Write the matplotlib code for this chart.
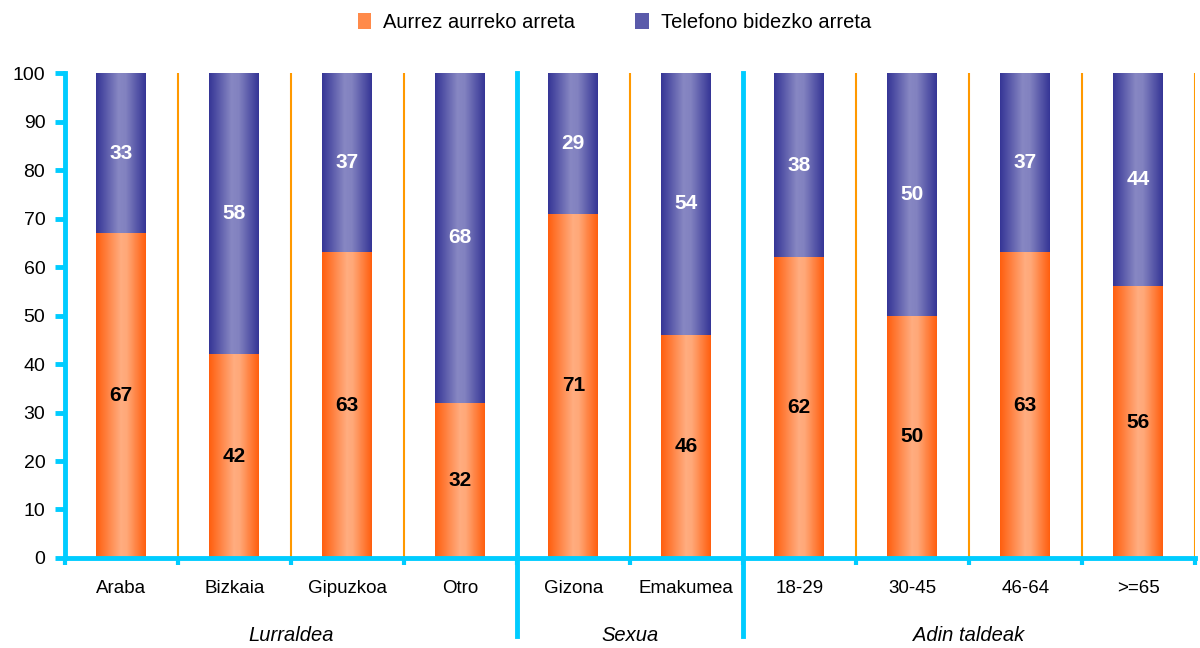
import numpy as np
import matplotlib
matplotlib.use("Agg")
import matplotlib.pyplot as plt
from matplotlib.colors import LinearSegmentedColormap
from matplotlib.patches import Patch

plt.rcParams["font.family"] = ["Liberation Sans", "DejaVu Sans"]

# ── data ────────────────────────────────────────────────────
categories = ["Araba", "Bizkaia", "Gipuzkoa", "Otro", "Gizona", "Emakumea",
              "18-29", "30-45", "46-64", ">=65"]
aurrez    = [67, 42, 63, 32, 71, 46, 62, 50, 63, 56]
telefono  = [33, 58, 37, 68, 29, 54, 38, 50, 37, 44]
groups    = ["Lurraldea", "Sexua", "Adin taldeak"]
group_sizes = [4, 2, 4]
series_names = ["Aurrez aurreko arreta", "Telefono bidezko arreta"]

CYAN   = "#00CCFF"
DIVIDE = "#FF9900"
cmap_or = LinearSegmentedColormap.from_list(
    "or", [(0, "#FF5F0F"), (0.5, "#FFAD80"), (0.62, "#FFA878"), (1, "#FF5F0F")])
cmap_bl = LinearSegmentedColormap.from_list(
    "bl", [(0, "#363696"), (0.45, "#8787C3"), (0.6, "#8282C0"), (1, "#363696")])

fig = plt.figure(figsize=(12, 6.48), dpi=100)
ax = fig.add_axes([0.054, 0.1389, 0.9417, 0.7484])

x = np.arange(len(categories))
w = 0.44
b1 = ax.bar(x, aurrez, w, color="none", edgecolor="none")
b2 = ax.bar(x, telefono, w, bottom=aurrez, color="none", edgecolor="none")

grad = np.linspace(0, 1, 64).reshape(1, -1)
for bars, cm in [(b1, cmap_or), (b2, cmap_bl)]:
    for r in bars:
        ax.imshow(grad, cmap=cm, aspect="auto", zorder=2,
                  extent=[r.get_x(), r.get_x() + r.get_width(),
                          r.get_y(), r.get_y() + r.get_height()])

for i in range(len(categories)):
    ax.text(x[i], aurrez[i] / 2, str(aurrez[i]), ha="center", va="center",
            fontsize=15, fontweight="bold", color="black", zorder=4)
    ax.text(x[i], aurrez[i] + telefono[i] / 2, str(telefono[i]), ha="center",
            va="center", fontsize=15, fontweight="bold", color="white", zorder=4)

ax.set_xlim(-0.5, len(categories) - 0.5)
ax.set_ylim(0, 100)

# orange dividers between categories
bounds = np.cumsum(group_sizes)[:-1] - 0.5
for b in np.arange(0.5, len(categories), 1.0):
    if b not in bounds:
        ax.plot([b, b], [0, 100], color=DIVIDE, lw=1.5, zorder=1)

# cyan group dividers that reach below the axis
for b in bounds:
    ax.plot([b, b], [100, -16], color=CYAN, lw=3.5, zorder=5, clip_on=False)

# group labels
start = 0
for g, n in zip(groups, group_sizes):
    ax.text(start + (n - 1) / 2, -16, g, ha="center", va="center",
            fontsize=14.5, fontstyle="italic")
    start += n

for s in ["top", "right"]:
    ax.spines[s].set_visible(False)
for s in ["left", "bottom"]:
    ax.spines[s].set_color(CYAN)
    ax.spines[s].set_linewidth(3.5)
ax.spines["left"].set_zorder(6)

ax.set_yticks(range(0, 101, 10))
ax.tick_params(axis="y", colors=CYAN, width=3.5, length=7, pad=7,
               labelsize=14, labelcolor="black")
ax.set_xticks(np.arange(-0.5, len(categories), 1.0))
ax.set_xticklabels([])
ax.tick_params(axis="x", colors=CYAN, width=3, length=5)
for i, c in enumerate(categories):
    ax.text(x[i], -6.2, c, ha="center", va="center", fontsize=13.5)

handles = [Patch(facecolor="#FF8A4A", label=series_names[0]),
           Patch(facecolor="#5A5AAA", label=series_names[1])]
fig.legend(handles=handles, loc="upper center", ncol=2, frameon=False,
           fontsize=14.5, bbox_to_anchor=(0.512, 1.008), handlelength=0.65,
           handleheight=0.85, columnspacing=3.0, handletextpad=0.6)

fig.savefig("out.png", dpi=100)
